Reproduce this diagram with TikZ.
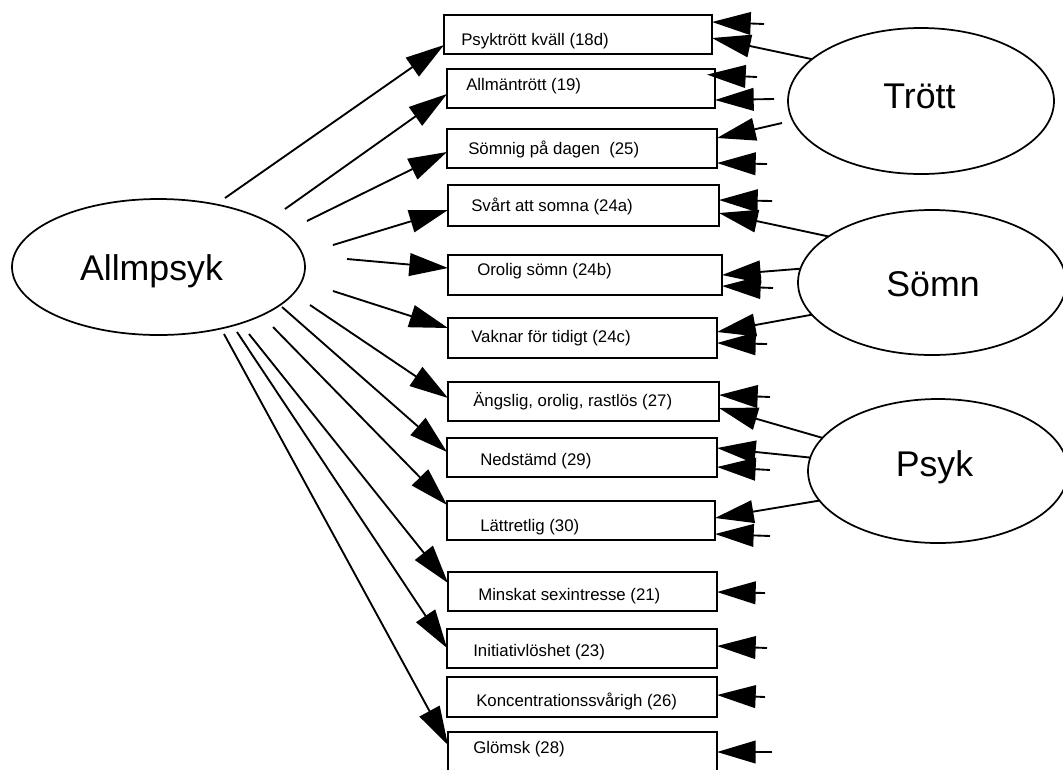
\documentclass[tikz,border=0pt]{standalone}
\usepackage{fontspec}
\setmainfont{Liberation Sans}
\usetikzlibrary{arrows.meta,shapes.geometric}
\begin{document}
\begin{tikzpicture}[x=0.75pt,y=-0.75pt,
  box/.style={draw, line width=1.6pt, rectangle, inner sep=0pt, outer sep=0pt},
  factor/.style={draw, line width=1.3pt, ellipse, inner sep=0pt, outer sep=0pt},
  item/.style={font=\fontsize{12.6pt}{15pt}\selectfont, inner sep=0pt, anchor=base west},
  fname/.style={font=\fontsize{26.8pt}{32pt}\selectfont, inner sep=0pt, anchor=base},
  arr/.style={line width=1.4pt, -{Triangle[length=29pt,width=17pt]}}]
\useasboundingbox (0,0) rectangle (1063,769);
\clip (0,0) rectangle (1063,769);
\fill[white] (0,0) rectangle (1063,769);

% latent factors
\node[factor, minimum width=219.75pt, minimum height=102pt] (allm) at (158.5,267) {};
\node[factor, minimum width=199.5pt, minimum height=109.5pt] (trott) at (921,101) {};
\node[factor, minimum width=201pt, minimum height=108.75pt] (somn) at (932,282.5) {};
\node[factor, minimum width=195pt, minimum height=108pt] (psyk) at (938,471) {};
\node[fname] (allm-t) at (151.5,280) {Allmpsyk};
\node[fname] (trott-t) at (919.5,108.5) {Trött};
\node[fname] (somn-t) at (933,296.5) {Sömn};
\node[fname] (psyk-t) at (934.5,476) {Psyk};

% observed items
\node[box, minimum width=201pt,    minimum height=29.25pt] (b1)  at (578,34.5)  {};
\node[box, minimum width=201pt,    minimum height=29.25pt] (b2)  at (581,88.5)  {};
\node[box, minimum width=202.5pt,  minimum height=29.25pt] (b3)  at (582,148.5) {};
\node[box, minimum width=203.25pt, minimum height=30.75pt] (b4)  at (583.5,205.5) {};
\node[box, minimum width=205.5pt,  minimum height=30pt]    (b5)  at (585,275)   {};
\node[box, minimum width=201.75pt, minimum height=30pt]    (b6)  at (582.5,338) {};
\node[box, minimum width=203.25pt, minimum height=29.25pt] (b7)  at (583.5,401.5) {};
\node[box, minimum width=202.5pt,  minimum height=29.25pt] (b8)  at (582,457.5) {};
\node[box, minimum width=201pt,    minimum height=29.25pt] (b9)  at (581,520.5) {};
\node[box, minimum width=201.75pt, minimum height=29.25pt] (b10) at (582.5,591.5) {};
\node[box, minimum width=202.5pt,  minimum height=29.25pt] (b11) at (582,648.5) {};
\node[box, minimum width=202.5pt,  minimum height=30pt]    (b12) at (582,697)   {};
\node[box, minimum width=201.75pt, minimum height=36pt]    (b13) at (582.5,756) {};

\node[item] (t1)  at (461,45.5)  {Psyktrött kväll (18d)};
\node[item] (t2)  at (466,90.5)  {Allmäntrött (19)};
\node[item] (t3)  at (468,154)   {Sömnig på dagen \ (25)};
\node[item] (t4)  at (471,211.5) {Svårt att somna (24a)};
\node[item] (t5)  at (477,275)   {Orolig sömn (24b)};
\node[item] (t6)  at (471,342.5) {Vaknar för tidigt (24c)};
\node[item] (t7)  at (473,406.5) {Ängslig, orolig, rastlös (27)};
\node[item] (t8)  at (480,465)   {Nedstämd (29)};
\node[item] (t9)  at (480,531.5) {Lättretlig (30)};
\node[item] (t10) at (478,600)   {Minskat sexintresse (21)};
\node[item] (t11) at (473,656.5) {Initiativlöshet (23)};
\node[item] (t12) at (476,706.5) {Koncentrationssvårigh (26)};
\node[item] (t13) at (473,753)   {Glömsk (28)};

% free ends of the general-factor paths
\coordinate (g1)  at (225,198);
\coordinate (g2)  at (285,209);
\coordinate (g3)  at (307,221);
\coordinate (g4)  at (333,245);
\coordinate (g5)  at (347,259);
\coordinate (g6)  at (333,291);
\coordinate (g7)  at (310,305);
\coordinate (g8)  at (282,307);
\coordinate (g9)  at (273,327);
\coordinate (g10) at (249,334);
\coordinate (g11) at (237,332);
\coordinate (g12) at (224,334);

\draw[arr] (g1)  -- (b1.west |- 0,45);
\draw[arr] (g2)  -- (b2.west |- 0,94);
\draw[arr] (g3)  -- (b3.west |- 0,152);
\draw[arr] (g4)  -- (b4.west |- 0,210);
\draw[arr] (g5)  -- (b5.west |- 0,268);
\draw[arr] (g6)  -- (b6.west |- 0,328);
\draw[arr] (g7)  -- (b7.west |- 0,398);
\draw[arr] (g8)  -- (b8.west |- 0,452);
\draw[arr] (g9)  -- (b9.west |- 0,505);
\draw[arr] (g10) -- (b10.west |- 0,583);
\draw[arr] (g11) -- (b11.west |- 0,648);
\draw[arr] (g12) -- (b13.west |- 0,745);

% group factor paths
\draw[arr] (trott.159.5) -- (b1.east |- 0,38);
\coordinate (f2) at (774,99);
\coordinate (f3) at (782,123);
\draw[arr] (f2) -- (b2.east |- 0,100);
\draw[arr] (f3) -- (b3.east |- 0,138);
\draw[arr] (somn.156) -- (b4.east |- 0,213);
\draw[arr] (somn.174) -- (b5.east |- 0,275);
\draw[arr] (somn.195) -- (b6.east |- 0,332);
\draw[arr] (psyk.164) -- (b7.east |- 0,408);
\draw[arr] (psyk.174) -- (b8.east |- 0,448);
\draw[arr] (psyk.194) -- (b9.east |- 0,518);

% residual terms
\coordinate (e1)  at (764,24);
\coordinate (e2)  at (757,77);
\coordinate (e3)  at (767,164);
\coordinate (e4)  at (772,201);
\coordinate (e5)  at (773,288);
\coordinate (e6)  at (767,344);
\coordinate (e7)  at (770,397);
\coordinate (e8)  at (770,470);
\coordinate (e9)  at (770,536);
\coordinate (e10) at (765,593);
\coordinate (e11) at (767,648);
\coordinate (e12) at (765,697);
\coordinate (e13) at (772,752);
\draw[arr] (e1)  -- (b1.east |- 0,22);
\draw[arr, shorten >=-6pt] (e2) -- (b2.east |- 0,75);
\draw[arr] (e3)  -- (b3.east |- 0,163);
\draw[arr] (e4)  -- (b4.east |- 0,200);
\draw[arr] (e5)  -- (b5.east |- 0,286);
\draw[arr] (e6)  -- (b6.east |- 0,343);
\draw[arr] (e7)  -- (b7.east |- 0,395);
\draw[arr] (e8)  -- (b8.east |- 0,467);
\draw[arr] (e9)  -- (b9.east |- 0,534);
\draw[arr] (e10) -- (b10.east |- 0,592);
\draw[arr] (e11) -- (b11.east |- 0,646);
\draw[arr] (e12) -- (b12.east |- 0,695);
\draw[arr] (e13) -- (b13.east |- 0,752);
\end{tikzpicture}
\end{document}
